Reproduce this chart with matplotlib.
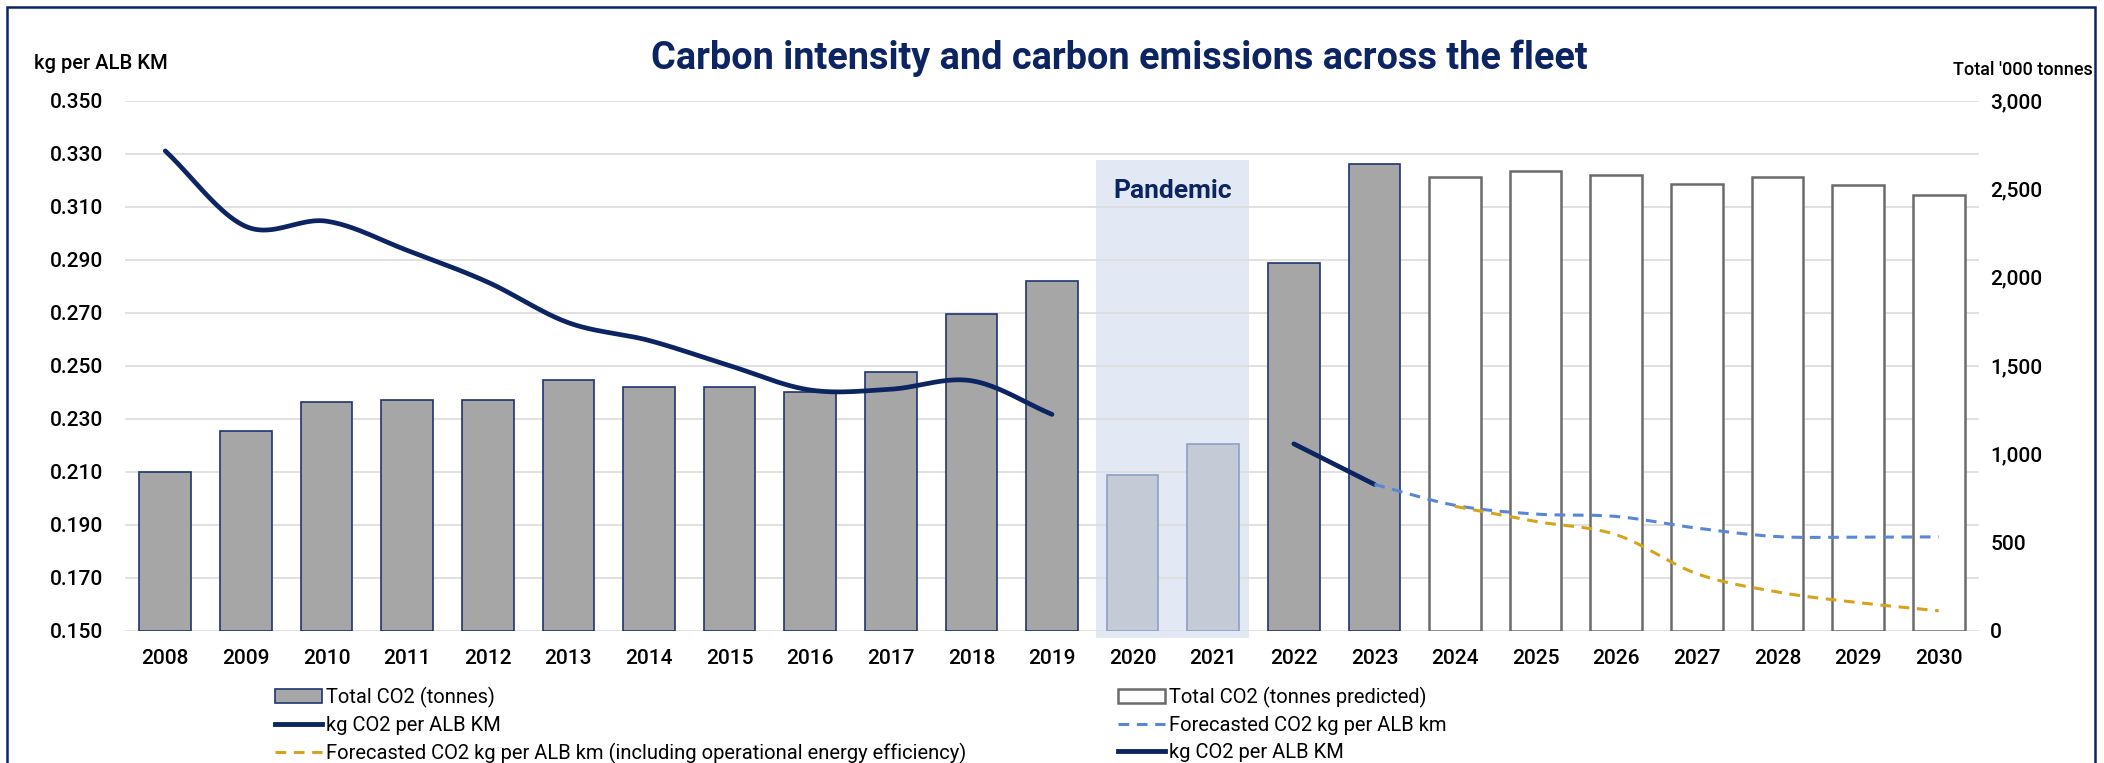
import numpy as np
import matplotlib.pyplot as plt
from matplotlib.patches import Rectangle, Patch
from matplotlib.lines import Line2D
from matplotlib.ticker import FuncFormatter, FixedLocator, MultipleLocator

plt.rcParams['font.family'] = ['Roboto', 'DejaVu Sans']

years = [str(y) for y in range(2008, 2031)]

# thousand tonnes, 2008-2023 actual, 2024-2030 predicted
co2_actual = [900, 1130, 1295, 1305, 1305, 1420, 1380, 1380, 1350, 1465,
              1790, 1980, 880, 1055, 2080, 2640]
co2_predicted = [2565, 2600, 2580, 2530, 2570, 2525, 2465]
pandemic_years = ['2020', '2021']

# kg CO2 per ALB km
kg_hist_years = years[0:12]
kg_hist = [0.331, 0.3025, 0.3045, 0.2935, 0.2815, 0.2662, 0.2595, 0.2500,
           0.2408, 0.2411, 0.2443, 0.2316]
kg_recent_years = ['2022', '2023']
kg_recent = [0.2205, 0.2052]
fc_years = years[15:]
fc = [0.2052, 0.1973, 0.1940, 0.1931, 0.1887, 0.1855, 0.1853, 0.1854]
fc_eff_years = years[16:]
fc_eff = [0.1969, 0.1912, 0.1862, 0.1715, 0.1646, 0.1606, 0.1575]

kg_ticks = [0.150, 0.170, 0.190, 0.210, 0.230, 0.250, 0.270, 0.290, 0.310, 0.330, 0.350]

NAVY = '#0c2461'
BLUE = '#5a86d6'
GOLD = '#d4a41c'
GRID = '#dcdcdc'
TICK_FS = 15


def smooth(xs, ys, n=24):
    """Catmull-Rom curve through the points, like a smoothed Excel line."""
    xs = np.asarray(xs, float)
    ys = np.asarray(ys, float)
    if len(xs) < 3:
        return xs, ys
    m = np.gradient(ys, xs)
    out_x, out_y = [], []
    for i in range(len(xs) - 1):
        h = xs[i + 1] - xs[i]
        t = np.linspace(0, 1, n, endpoint=(i == len(xs) - 2))
        h00 = 2 * t**3 - 3 * t**2 + 1
        h10 = t**3 - 2 * t**2 + t
        h01 = -2 * t**3 + 3 * t**2
        h11 = t**3 - t**2
        out_x.append(xs[i] + t * h)
        out_y.append(h00 * ys[i] + h10 * h * m[i] + h01 * ys[i + 1] + h11 * h * m[i + 1])
    return np.concatenate(out_x), np.concatenate(out_y)


def idx(labels):
    return [years.index(y) for y in labels]


fig = plt.figure(figsize=(21.04, 7.63), dpi=100)
ax = fig.add_axes([0.0594, 0.1734, 0.8812, 0.6948])
ax2 = ax.twinx()
ax3 = ax.twinx()

kg_lim = (kg_ticks[0], kg_ticks[-1])
t_lim = (0, 3000)
x = np.arange(len(years))

# left axis: grid + pandemic band
ax.set_ylim(*kg_lim)
ax.set_xlim(-0.5, len(years) - 0.5)
ax.yaxis.set_major_locator(FixedLocator(kg_ticks))
ax.yaxis.set_major_formatter(FuncFormatter(lambda v, p: f'{v:.3f}'))
ax.grid(axis='y', color=GRID, lw=1.2)
ax.set_axisbelow(True)
p0, p1 = idx(pandemic_years)[0], idx(pandemic_years)[-1]
ax.add_patch(Rectangle((p0 - 0.45, 0.1472), p1 - p0 + 0.9, 0.3276 - 0.1472,
                       facecolor='#e3e9f4', edgecolor='none', zorder=0.2, clip_on=False))

# right axis: bars
ax2.set_ylim(*t_lim)
ax2.yaxis.set_major_locator(MultipleLocator(500))
ax2.yaxis.set_major_formatter(FuncFormatter(lambda v, p: f'{v:,.0f}'))
bw = 0.64
hist_x = x[:len(co2_actual)]
pand = set(idx(pandemic_years))
face = ['#c4cbd6' if i in pand else '#a6a6a6' for i in hist_x]
edge = ['#8d9fc6' if i in pand else '#1f3370' for i in hist_x]
ax2.bar(hist_x, co2_actual, width=bw, color=face, edgecolor=edge, lw=1.2)
pred_x = x[len(co2_actual):]
ax2.bar(pred_x, co2_predicted, width=bw, color='white', edgecolor='#6b6b6b', lw=1.8)

# lines on top
ax3.set_ylim(*kg_lim)
ax3.set_yticks([])
sx, sy = smooth(idx(kg_hist_years), kg_hist)
ax3.plot(sx, sy, color=NAVY, lw=3.4, solid_capstyle='round')
ax3.plot(idx(kg_recent_years), kg_recent, color=NAVY, lw=3.4, solid_capstyle='round')
sx, sy = smooth(idx(fc_years), fc)
ax3.plot(sx, sy, color=BLUE, lw=2.2, dashes=(3.5, 2.5))
sx, sy = smooth(idx(fc_eff_years), fc_eff)
ax3.plot(sx, sy, color=GOLD, lw=2.2, dashes=(3.5, 2.5))
ax3.text(np.mean(idx(pandemic_years)), 0.316, 'Pandemic', ha='center', va='center',
         fontsize=19, fontweight='bold', color=NAVY)

for a in (ax, ax2, ax3):
    for s in a.spines.values():
        s.set_visible(False)
ax.set_xticks(x)
ax.set_xticklabels(years)
ax.tick_params(axis='x', length=0, pad=13, labelsize=TICK_FS)
ax.tick_params(axis='y', length=0, pad=16, labelsize=TICK_FS)
ax2.tick_params(axis='y', length=0, pad=8, labelsize=TICK_FS)
for lab in ax.get_xticklabels() + ax.get_yticklabels() + ax2.get_yticklabels():
    lab.set_fontweight('medium')

# titles and axis captions
fig.text(0.532, 0.923, 'Carbon intensity and carbon emissions across the fleet',
         ha='center', va='center', fontsize=27.3, fontweight='bold', color=NAVY)
fig.text(0.0162, 0.917, 'kg per ALB KM', ha='left', va='center', fontsize=14.5, fontweight='medium')
fig.text(0.9947, 0.908, "Total '000 tonnes", ha='right', va='center', fontsize=13, fontweight='medium')

# legends
leg_kw = dict(loc='upper left', frameon=False, fontsize=14.5, borderpad=0,
              handlelength=2.35, handletextpad=0.2, labelspacing=0.4, borderaxespad=0)
h1 = [Patch(facecolor='#a6a6a6', edgecolor='#1f3370', lw=1.2),
      Line2D([], [], color=NAVY, lw=3.5),
      Line2D([], [], color=GOLD, lw=2.2, dashes=(3.5, 2.5))]
l1 = ['Total CO2 (tonnes)', 'kg CO2 per ALB KM',
      'Forecasted CO2 kg per ALB km (including operational energy efficiency)']
h2 = [Patch(facecolor='white', edgecolor='#6b6b6b', lw=1.8),
      Line2D([], [], color=BLUE, lw=2.2, dashes=(3.5, 2.5)),
      Line2D([], [], color=NAVY, lw=3.5)]
l2 = ['Total CO2 (tonnes predicted)', 'Forecasted CO2 kg per ALB km', 'kg CO2 per ALB KM']
fig.legend(h1, l1, bbox_to_anchor=(0.1307, 0.100), **leg_kw)
fig.legend(h2, l2, bbox_to_anchor=(0.5314, 0.100), **leg_kw)

# outer frame
fig.patches.append(Rectangle((0.0033, -0.05), 0.9925, 1.05 - 0.0092, transform=fig.transFigure,
                             fill=False, edgecolor=NAVY, lw=1.8))

fig.savefig('out.png', dpi=100, facecolor='white')
